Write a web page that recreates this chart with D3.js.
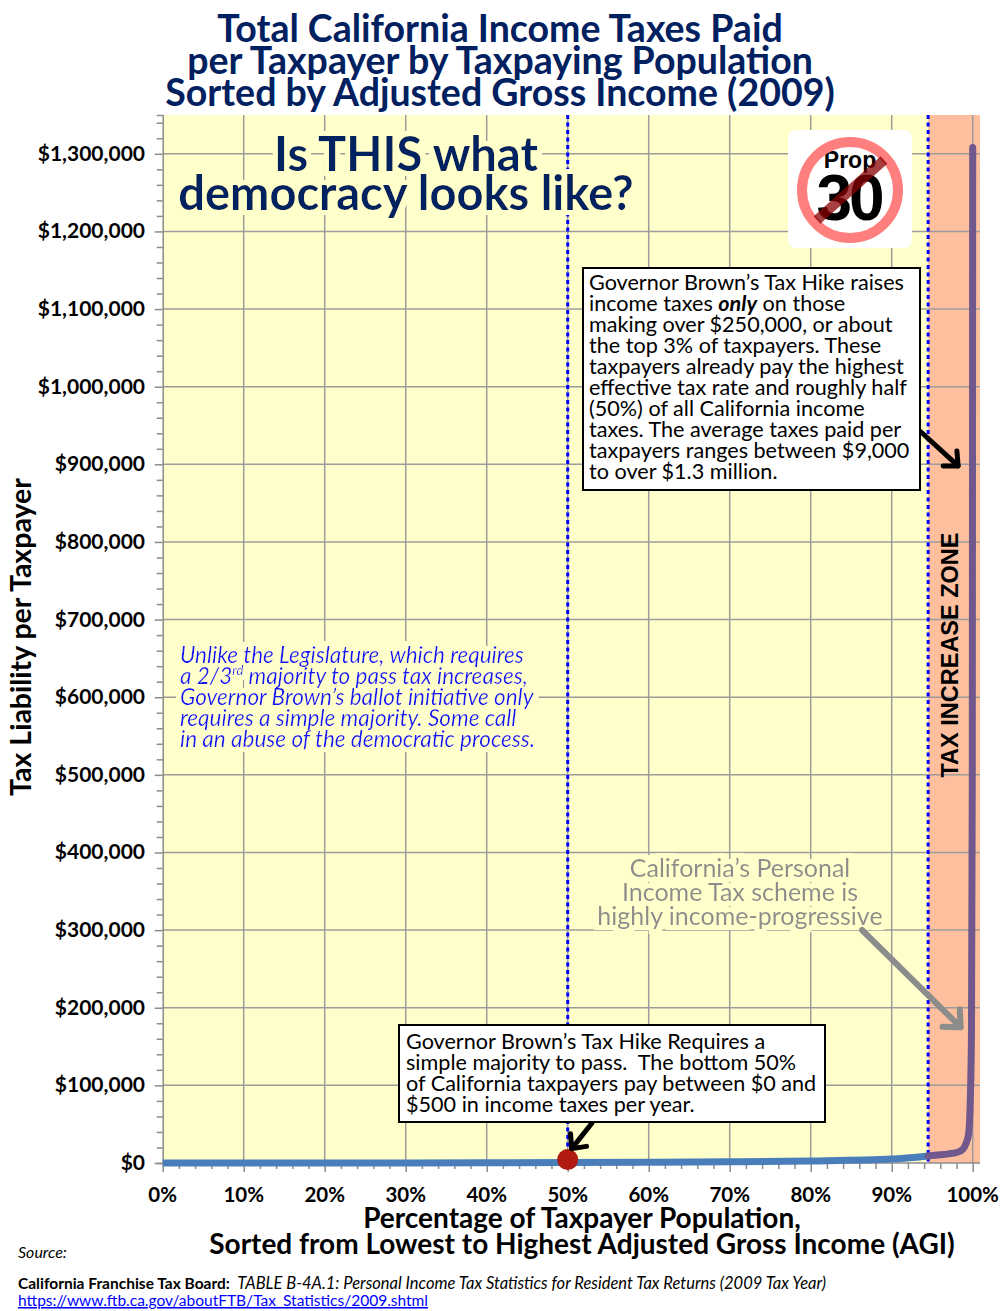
<!DOCTYPE html>
<html>
<head>
<meta charset="utf-8">
<script src="https://cdn.jsdelivr.net/npm/d3@7"></script>
<style>
  body { margin: 0; background: #fff; }
  text { font-family: Lato, "Open Sans", sans-serif; }
</style>
</head>
<body>
<script>
// percentile of taxpayers (sorted by AGI) and average tax paid
var lowPct = [0, 10, 20, 30, 40, 50, 60, 70, 80, 90, 94.5];
var lowTax = [0, 0, 30, 120, 280, 500, 900, 1500, 2600, 5000, 9000];
var highPct = [94.5, 96, 97, 98, 98.8, 99.2, 99.5, 99.7, 99.85, 99.95, 100];
var highTax = [9000, 10500, 11800, 13500, 18000, 26000, 38000, 80000, 170000, 500000, 1308000];
var yTicks = [0, 100000, 200000, 300000, 400000, 500000, 600000, 700000, 800000, 900000, 1000000, 1100000, 1200000, 1300000];
var xTicks = [0, 10, 20, 30, 40, 50, 60, 70, 80, 90, 100];
var zoneStart = 94.5;
var majorityPct = 50;

var width = 1002, height = 1311;
var svg = d3.select('body').append('svg')
    .attr('width', width)
    .attr('height', height);

// glow filter in the plot colour, hides the grid behind in-plot text
var f = svg.append('defs').append('filter').attr('id', 'glow')
    .attr('x', '-10%').attr('y', '-30%').attr('width', '120%').attr('height', '160%');
f.append('feMorphology').attr('in', 'SourceAlpha').attr('operator', 'dilate')
 .attr('radius', 5).attr('result', 'fat');
f.append('feFlood').attr('flood-color', '#ffffcc').attr('result', 'col');
f.append('feComposite').attr('in', 'col').attr('in2', 'fat').attr('operator', 'in').attr('result', 'halo');
var fm = f.append('feMerge');
fm.append('feMergeNode').attr('in', 'halo');
fm.append('feMergeNode').attr('in', 'SourceGraphic');

var x = d3.scaleLinear().domain([0, 100]).range([162.7, 972.7]);
var y = d3.scaleLinear().domain([0, 1350000]).range([1163, 115]);
var xMax = 100.9;

// background + tax zone
svg.append('rect')
   .attr('x', x(0)).attr('y', y(1350000))
   .attr('width', x(xMax) - x(0)).attr('height', y(0) - y(1350000))
   .attr('fill', '#ffffcc');
svg.append('rect')
   .attr('x', x(zoneStart)).attr('y', y(1350000))
   .attr('width', x(xMax) - x(zoneStart)).attr('height', y(0) - y(1350000))
   .attr('fill', '#fdbf9d');

// gridlines
svg.append('g').selectAll('line')
   .data(yTicks.slice(1))
   .enter().append('line')
   .attr('x1', x(0)).attr('x2', x(xMax))
   .attr('y1', function(d){ return y(d); })
   .attr('y2', function(d){ return y(d); })
   .attr('stroke', '#9c9c9c').attr('stroke-width', 1.5);
svg.append('g').selectAll('line')
   .data(xTicks.slice(1))
   .enter().append('line')
   .attr('x1', function(d){ return x(d); })
   .attr('x2', function(d){ return x(d); })
   .attr('y1', y(0)).attr('y2', y(1350000))
   .attr('stroke', '#9c9c9c').attr('stroke-width', 1.5);

// axes
var yAxis = d3.axisLeft(y).tickValues(d3.range(0, 1350001, 20000)).tickSize(6).tickFormat('');
var gy = svg.append('g').attr('transform', 'translate(' + x(0) + ',0)').call(yAxis);
gy.selectAll('line').attr('x2', function(d){ return d % 100000 === 0 ? -8 : -6; });
var xAxis = d3.axisBottom(x).tickValues(d3.range(0, 100.1, 2)).tickSize(6).tickFormat('');
var gx = svg.append('g').attr('transform', 'translate(0,' + y(0) + ')').call(xAxis);
gx.selectAll('line').attr('y2', function(d){ return Math.round(d) % 10 === 0 ? 9 : 6; });
svg.selectAll('.domain, .tick line').attr('stroke', '#8c8c8c').attr('stroke-width', 1.5);
gx.select('.domain').attr('d', 'M' + x(0) + ',0H' + x(xMax));

svg.append('g').selectAll('text')
   .data(yTicks).enter().append('text')
   .attr('x', 145).attr('y', function(d){ return y(d) + 7; })
   .attr('text-anchor', 'end')
   .attr('font-weight', 'bold').attr('font-size', 21)
   .text(d3.format('$,'));
svg.append('g').selectAll('text')
   .data(xTicks).enter().append('text')
   .attr('x', function(d){ return x(d); }).attr('y', 1202)
   .attr('text-anchor', 'middle')
   .attr('font-weight', 'bold').attr('font-size', 20.5)
   .text(function(d){ return d + '%'; });

// dashed markers
[majorityPct, zoneStart].forEach(function(p){
  svg.append('line')
     .attr('x1', x(p)).attr('x2', x(p))
     .attr('y1', y(1350000)).attr('y2', y(0))
     .attr('stroke', '#0000ff').attr('stroke-width', 3)
     .attr('stroke-dasharray', '4,3.5');
});

// series
var line = d3.line()
    .x(function(d){ return x(d[0]); })
    .y(function(d){ return y(d[1]); })
    .curve(d3.curveMonotoneX);
svg.append('path')
   .datum(d3.zip(lowPct, lowTax))
   .attr('d', line)
   .attr('fill', 'none').attr('stroke', '#4a7ebb').attr('stroke-width', 7);
svg.append('path')
   .datum(d3.zip(highPct, highTax))
   .attr('d', line)
   .attr('fill', 'none').attr('stroke', '#70588c').attr('stroke-width', 7)
   .attr('stroke-linecap', 'round').attr('stroke-linejoin', 'round');

svg.append('circle')
   .attr('cx', x(majorityPct)).attr('cy', y(lowTax[5]) - 3)
   .attr('r', 10.5).attr('fill', '#b01a10');

// title
var title = ['Total California Income Taxes Paid',
             'per Taxpayer by Taxpaying Population',
             'Sorted by Adjusted Gross Income (2009)'];
svg.append('g').selectAll('text')
   .data(title).enter().append('text')
   .attr('x', 500).attr('y', function(d, i){ return 42 + i * 32; })
   .attr('text-anchor', 'middle')
   .attr('font-weight', 'bold').attr('font-size', 37.5)
   .attr('fill', '#002060')
   .text(function(d){ return d; });

// big question
svg.append('g').attr('filter', 'url(#glow)')
   .selectAll('text')
   .data(['Is THIS what', 'democracy looks like?']).enter().append('text')
   .attr('x', 406).attr('y', function(d, i){ return 171 + i * 39; })
   .attr('text-anchor', 'middle')
   .attr('font-weight', 'bold').attr('font-size', 47)
   .attr('fill', '#002060')
   .text(function(d){ return d; });

// blue italic note
var noteLines = ['Unlike the Legislature, which requires',
                 'a 2/3|rd| majority to pass tax increases,',
                 'Governor Brown\u2019s ballot initiative only',
                 'requires a simple majority. Some call',
                 'in an abuse of the democratic process.'];
var note = svg.append('g').attr('filter', 'url(#glow)');
noteLines.forEach(function(s, i){
  var t = note.append('text')
     .attr('x', 180).attr('y', 663 + i * 21)
     .attr('font-style', 'italic').attr('font-size', 22.5)
     .attr('fill', '#1515f0');
  s.split('|').forEach(function(part, j){
    var ts = t.append('tspan').text(part);
    if (j === 1) ts.attr('font-size', 13).attr('dy', -9);
    if (j === 2) ts.attr('dy', 9);
  });
});

// grey note + arrow
svg.append('g').attr('filter', 'url(#glow)')
   .selectAll('text')
   .data(['California\u2019s Personal', 'Income Tax scheme is', 'highly income-progressive'])
   .enter().append('text')
   .attr('x', 740).attr('y', function(d, i){ return 877 + i * 24; })
   .attr('text-anchor', 'middle').attr('font-size', 25)
   .attr('fill', '#8c8c8c')
   .text(function(d){ return d; });

function arrow(x1, y1, x2, y2, col, w, head) {
  var a = Math.atan2(y2 - y1, x2 - x1), h = head || 16;
  svg.append('line')
     .attr('x1', x1).attr('y1', y1).attr('x2', x2).attr('y2', y2)
     .attr('stroke', col).attr('stroke-width', w).attr('stroke-linecap', 'round');
  var p1 = [x2 - h * Math.cos(a - 0.75), y2 - h * Math.sin(a - 0.75)];
  var p2 = [x2 - h * Math.cos(a + 0.75), y2 - h * Math.sin(a + 0.75)];
  svg.append('path')
     .attr('d', 'M' + p1 + 'L' + x2 + ',' + y2 + 'L' + p2)
     .attr('fill', 'none').attr('stroke', col).attr('stroke-width', w)
     .attr('stroke-linecap', 'round').attr('stroke-linejoin', 'round');
}
arrow(862, 930, x(98.5), y(175000), '#8c8c8c', 6, 18);

// TAX INCREASE ZONE
svg.append('text')
   .attr('transform', 'translate(958,655) rotate(-90)')
   .attr('text-anchor', 'middle')
   .style('font-family', '"Liberation Sans", Arial, sans-serif')
   .attr('font-weight', 'bold').attr('font-size', 23.5)
   .text('TAX INCREASE ZONE');

// top-right box
var boxLines = ['Governor Brown\u2019s Tax Hike raises',
                'income taxes |only| on those',
                'making over $250,000, or about',
                'the top 3% of taxpayers. These',
                'taxpayers already pay the highest',
                'effective tax rate and roughly half',
                '(50%) of all California income',
                'taxes. The average taxes paid per',
                'taxpayers ranges between $9,000',
                'to over $1.3 million.'];
arrow(921, 432, x(98.2), y(898000), '#000', 5, 15);
svg.append('rect')
   .attr('x', 583).attr('y', 268).attr('width', 337).attr('height', 222)
   .attr('fill', '#fff').attr('stroke', '#000').attr('stroke-width', 2);
boxLines.forEach(function(s, i){
  var t = svg.append('text').attr('x', 589).attr('y', 290 + i * 21).attr('font-size', 21.6);
  s.split('|').forEach(function(part, j){
    var ts = t.append('tspan').text(part);
    if (j === 1) ts.attr('font-weight', 'bold').attr('font-style', 'italic');
  });
});

// bottom box
arrow(592, 1123, x(majorityPct) + 4, y(lowTax[5]) - 14, '#000', 5, 15);
svg.append('rect')
   .attr('x', 399).attr('y', 1025).attr('width', 426).attr('height', 97)
   .attr('fill', '#fff').attr('stroke', '#000').attr('stroke-width', 2);
svg.append('g').selectAll('text')
   .data(['Governor Brown\u2019s Tax Hike Requires a',
          'simple majority to pass.  The bottom 50%',
          'of California taxpayers pay between $0 and',
          '$500 in income taxes per year.'])
   .enter().append('text')
   .attr('x', 406).attr('y', function(d, i){ return 1049 + i * 21; })
   .attr('font-size', 21.6).attr('xml:space', 'preserve')
   .text(function(d){ return d; });

// Prop 30 badge
var badge = svg.append('g');
badge.append('rect')
   .attr('x', 788).attr('y', 130).attr('width', 124).attr('height', 118)
   .attr('rx', 8).attr('fill', '#fff');
badge.append('text')
   .attr('x', 850).attr('y', 168).attr('text-anchor', 'middle')
   .style('font-family', '"Liberation Sans", Arial, sans-serif')
   .attr('font-weight', 'bold').attr('font-size', 23).text('Prop');
badge.append('text')
   .attr('x', 849).attr('y', 220).attr('text-anchor', 'middle')
   .style('font-family', '"Liberation Sans", Arial, sans-serif')
   .attr('font-weight', 'bold').attr('font-size', 64).attr('letter-spacing', -3).text('30');
badge.append('circle')
   .attr('cx', 850).attr('cy', 190).attr('r', 48)
   .attr('fill', 'none').attr('stroke', '#ff7f7f').attr('stroke-width', 10);
badge.append('line')
   .attr('x1', 817).attr('y1', 220).attr('x2', 884).attr('y2', 160)
   .attr('stroke', '#8a0000').attr('stroke-opacity', 0.75).attr('stroke-width', 10);

// axis titles
svg.append('text')
   .attr('transform', 'translate(31,637) rotate(-90)')
   .attr('text-anchor', 'middle')
   .attr('font-weight', 'bold').attr('font-size', 28.5)
   .text('Tax Liability per Taxpayer');
svg.append('g').selectAll('text')
   .data(['Percentage of Taxpayer Population,',
          'Sorted from Lowest to Highest Adjusted Gross Income (AGI)'])
   .enter().append('text')
   .attr('x', 582).attr('y', function(d, i){ return 1228 + i * 26; })
   .attr('text-anchor', 'middle')
   .attr('font-weight', 'bold').attr('font-size', 28)
   .text(function(d){ return d; });

// source
svg.append('text').attr('x', 18).attr('y', 1258)
   .attr('font-style', 'italic').attr('font-size', 16).text('Source:');
var src = svg.append('text').attr('x', 18).attr('y', 1289).attr('font-size', 15.5)
   .attr('xml:space', 'preserve');
src.append('tspan').attr('font-weight', 'bold').text('California Franchise Tax Board:  ');
src.append('tspan').attr('font-style', 'italic').attr('font-size', 16.5)
   .text('TABLE B-4A.1: Personal Income Tax Statistics for Resident Tax Returns (2009 Tax Year)');
svg.append('text').attr('x', 18).attr('y', 1306).attr('font-size', 15.5)
   .attr('fill', '#0000ff').attr('text-decoration', 'underline')
   .text('https://www.ftb.ca.gov/aboutFTB/Tax_Statistics/2009.shtml');
</script>
</body>
</html>
